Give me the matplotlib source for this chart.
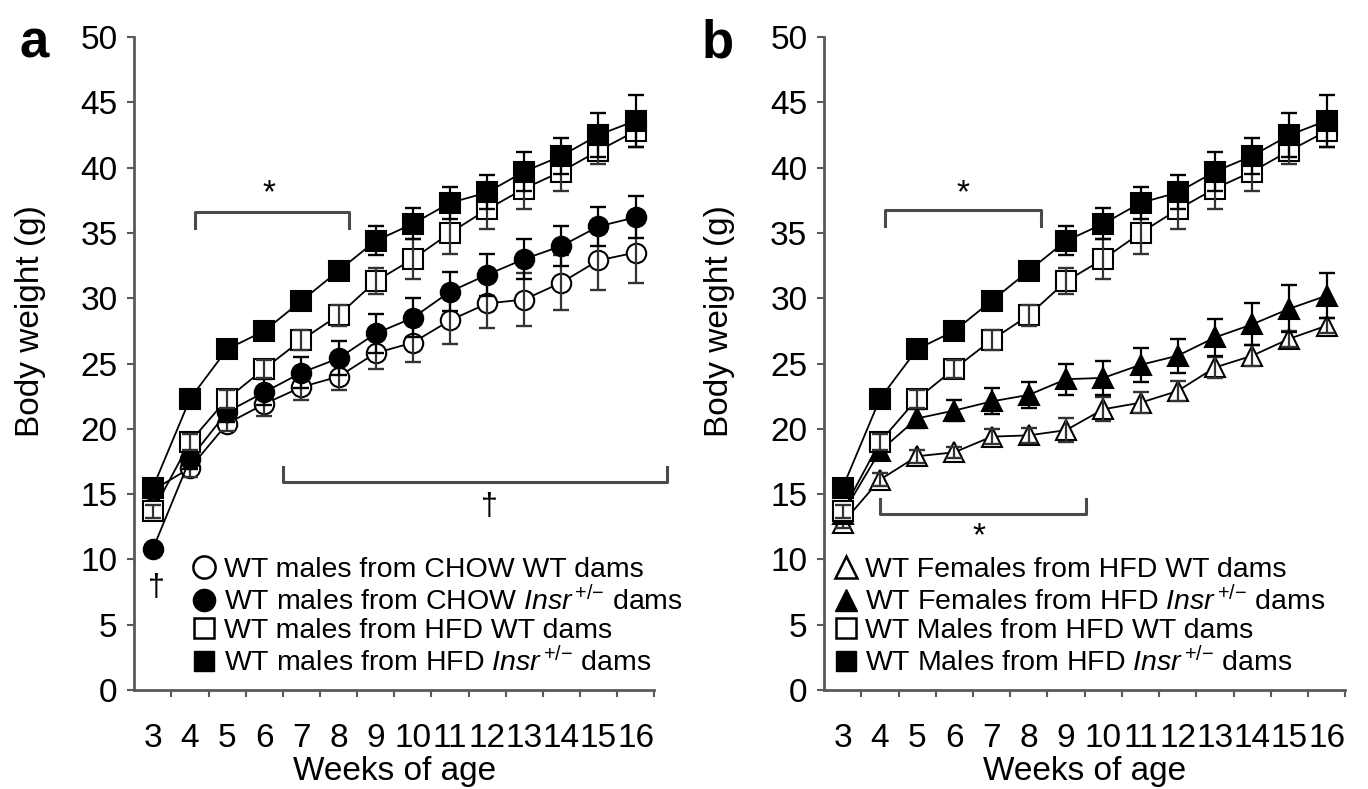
import numpy as np
import matplotlib.pyplot as plt
from matplotlib.lines import Line2D

plt.rcParams['font.family'] = ['Liberation Sans', 'DejaVu Sans']
plt.rcParams['mathtext.fontset'] = 'custom'
plt.rcParams['mathtext.rm'] = 'Liberation Sans'
plt.rcParams['mathtext.it'] = 'Liberation Sans:italic'

weeks = list(range(3, 17))

# panel a - males
chow_wt = [15.3, 17.0, 20.4, 21.9, 23.2, 24.0, 25.8, 26.6, 28.3, 29.6, 29.9, 31.2, 32.9, 33.5]
chow_wt_err = [0.5, 0.7, 0.6, 0.9, 1.0, 1.0, 1.2, 1.5, 1.8, 1.9, 2.0, 2.1, 2.3, 2.3]
chow_insr = [10.8, 17.7, 21.3, 22.8, 24.3, 25.4, 27.3, 28.5, 30.5, 31.8, 33.0, 34.0, 35.5, 36.2]
chow_insr_err = [0.3, 0.8, 0.8, 1.0, 1.2, 1.3, 1.5, 1.5, 1.5, 1.6, 1.5, 1.5, 1.5, 1.6]
hfd_wt = [13.7, 19.0, 22.3, 24.6, 26.8, 28.7, 31.3, 33.0, 35.0, 36.8, 38.4, 39.7, 41.3, 42.8]
hfd_wt_err = [0.5, 0.6, 0.7, 0.7, 0.8, 0.8, 1.0, 1.5, 1.6, 1.5, 1.6, 1.5, 1.0, 1.2]
hfd_insr = [15.5, 22.3, 26.1, 27.5, 29.8, 32.1, 34.4, 35.7, 37.3, 38.1, 39.7, 40.9, 42.5, 43.6]
hfd_insr_err = [0.4, 0.4, 0.5, 0.5, 0.6, 0.6, 1.1, 1.2, 1.2, 1.3, 1.5, 1.4, 1.7, 2.0]

# panel b - females (males reuse the HFD series)
fem_wt = [12.8, 16.1, 17.9, 18.2, 19.4, 19.5, 19.9, 21.5, 22.0, 22.9, 24.7, 25.6, 26.9, 27.9]
fem_wt_err = [0.4, 0.5, 0.5, 0.4, 0.6, 0.6, 0.9, 0.9, 0.8, 0.8, 0.8, 0.8, 0.6, 0.6]
fem_insr = [13.5, 18.3, 20.8, 21.4, 22.1, 22.6, 23.8, 23.9, 24.9, 25.6, 27.0, 28.0, 29.2, 30.2]
fem_insr_err = [0.5, 0.6, 0.7, 0.8, 1.0, 1.0, 1.2, 1.3, 1.3, 1.3, 1.4, 1.6, 1.8, 1.7]

insr = r'$\mathit{Insr}^{\,{+}/{-}}$'
labels_a = ['WT males from CHOW WT dams',
            'WT males from CHOW ' + insr + ' dams',
            'WT males from HFD WT dams',
            'WT males from HFD ' + insr + ' dams']
labels_b = ['WT Females from HFD WT dams',
            'WT Females from HFD ' + insr + ' dams',
            'WT Males from HFD WT dams',
            'WT Males from HFD ' + insr + ' dams']

AXCOL = '#5a5a5a'
MS = {'o': 14, 's': 15, '^': 14}
FS = 24


def draw(ax, y, err, marker, filled, z):
    fc = 'black' if filled else 'white'
    ax.plot(weeks, y, '-', color='black', lw=1.3, marker=marker, ms=MS[marker],
            mfc=fc, mec='black', mew=1.5, zorder=z)
    ax.errorbar(weeks, y, yerr=err, fmt='none', ecolor='black' if filled else '#333333',
                elinewidth=1.6, capsize=5.5, capthick=1.7, zorder=z + 0.5)


def style(ax):
    ax.set_xlim(2.5, 16.5)
    ax.set_ylim(0, 50)
    for s in ['top', 'right']:
        ax.spines[s].set_visible(False)
    for s in ['left', 'bottom']:
        ax.spines[s].set_color(AXCOL)
        ax.spines[s].set_linewidth(2)
    ax.set_yticks(range(0, 51, 5))
    ax.set_xticks(weeks)
    ax.set_xticks(np.arange(3.5, 16.6, 1), minor=True)
    ax.tick_params(axis='y', length=5, width=1.5, color=AXCOL, labelsize=FS, pad=7)
    ax.tick_params(axis='x', which='major', length=0, labelsize=FS, pad=24)
    ax.tick_params(axis='x', which='minor', length=5, width=1.5, color=AXCOL)
    ax.set_ylabel('Body weight (g)', fontsize=FS)
    ax.set_xlabel('Weeks of age', fontsize=FS, labelpad=1.5)
    ax.yaxis.set_label_coords(-0.17, 0.565)


def bracket(ax, x0, x1, y, tip):
    ax.plot([x0, x0, x1, x1], [tip, y, y, tip], color='#4a4a4a', lw=2.2,
            clip_on=False, zorder=1)


fig = plt.figure(figsize=(13.68, 7.89), dpi=100)
ax1 = fig.add_axes([0.0982, 0.1255, 0.380, 0.8275])
ax2 = fig.add_axes([0.6024, 0.1255, 0.381, 0.8275])

# panel a
draw(ax1, chow_wt, chow_wt_err, 'o', False, 3)
draw(ax1, chow_insr, chow_insr_err, 'o', True, 4)
draw(ax1, hfd_wt, hfd_wt_err, 's', False, 5)
draw(ax1, hfd_insr, hfd_insr_err, 's', True, 6)
style(ax1)
bracket(ax1, 4.13, 8.28, 36.6, 35.4)
ax1.text(6.12, 38.0, '*', ha='center', va='center', fontsize=24)
bracket(ax1, 6.5, 16.84, 15.9, 17.1)
ax1.text(12.07, 14.0, '†', ha='center', va='center', fontsize=22)
ax1.text(3.1, 7.8, '†', ha='center', va='center', fontsize=22)

h_a = [Line2D([], [], ls='none', marker='o', ms=16, mfc='white', mec='black', mew=1.8),
       Line2D([], [], ls='none', marker='o', ms=16, mfc='black', mec='black'),
       Line2D([], [], ls='none', marker='s', ms=14, mfc='white', mec='black', mew=1.8),
       Line2D([], [], ls='none', marker='s', ms=14, mfc='black', mec='black')]
ax1.legend(h_a, labels_a, loc='upper left', bbox_to_anchor=(0.085, 0.225),
           frameon=False, fontsize=20.5, handlelength=0.8, handletextpad=0.3,
           labelspacing=0.08, borderpad=0)

# panel b
draw(ax2, fem_wt, fem_wt_err, '^', False, 3)
draw(ax2, fem_insr, fem_insr_err, '^', True, 4)
draw(ax2, hfd_wt, hfd_wt_err, 's', False, 5)
draw(ax2, hfd_insr, hfd_insr_err, 's', True, 6)
style(ax2)
bracket(ax2, 4.13, 8.32, 36.75, 35.5)
ax2.text(6.22, 38.0, '*', ha='center', va='center', fontsize=24)
bracket(ax2, 3.99, 9.53, 13.5, 14.6)
ax2.text(6.67, 11.7, '*', ha='center', va='center', fontsize=24)

h_b = [Line2D([], [], ls='none', marker='^', ms=16, mfc='white', mec='black', mew=1.8),
       Line2D([], [], ls='none', marker='^', ms=16, mfc='black', mec='black'),
       Line2D([], [], ls='none', marker='s', ms=14, mfc='white', mec='black', mew=1.8),
       Line2D([], [], ls='none', marker='s', ms=14, mfc='black', mec='black')]
ax2.legend(h_b, labels_b, loc='upper left', bbox_to_anchor=(-0.008, 0.225),
           frameon=False, fontsize=20.5, handlelength=0.8, handletextpad=0.3,
           labelspacing=0.08, borderpad=0)

fig.text(0.014, 0.945, 'a', fontsize=38, fontweight='bold', va='center')
fig.text(0.513, 0.945, 'b', fontsize=38, fontweight='bold', va='center')

fig.savefig('out.png', dpi=100)
